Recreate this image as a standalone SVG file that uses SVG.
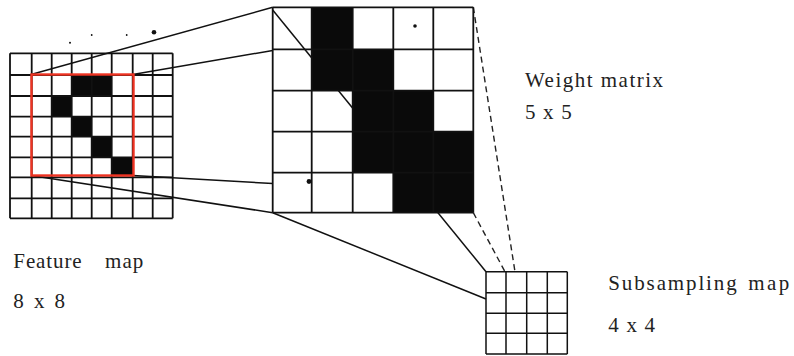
<svg xmlns="http://www.w3.org/2000/svg" width="794" height="356" viewBox="0 0 794 356">
<style>
.grid{stroke:#111;stroke-width:1.8;fill:none}
.thin{stroke:#111;stroke-width:1.5;fill:none}
.blk{fill:#0a0a0a}
.conn{stroke:#111;stroke-width:1.5;fill:none}
.dash{stroke:#222;stroke-width:1.4;fill:none;stroke-dasharray:6 4}
.lbl{font-size:21px;fill:#222}
.dot{fill:#111}
</style>
<rect width="794" height="356" fill="#fff"/>

<g id="feature-map">
  <rect class="blk" x="71.7" y="75" width="40" height="21"/>
  <rect class="blk" x="51.7" y="96" width="20" height="20.7"/>
  <rect class="blk" x="71.7" y="116.7" width="20" height="20"/>
  <rect class="blk" x="91.7" y="136.7" width="20" height="20.6"/>
  <rect class="blk" x="111.7" y="157.3" width="21" height="19"/>
  <path class="grid" d="M10 53.3V218.3M31.7 53.3V218.3M51.7 53.3V218.3M71.7 53.3V218.3M91.7 53.3V218.3M111.7 53.3V218.3M132.7 53.3V218.3M152.7 53.3V218.3M172.7 53.3V218.3M10 53.3H172.7M10 75H172.7M10 96H172.7M10 116.7H172.7M10 136.7H172.7M10 157.3H172.7M10 177.3H172.7M10 198.3H172.7M10 218.3H172.7"/>
  <circle class="dot" cx="70" cy="42.7" r="1"/>
  <circle class="dot" cx="91.7" cy="35" r="0.9"/>
  <circle class="dot" cx="126.7" cy="35" r="0.9"/>
  <circle class="dot" cx="154" cy="32.3" r="2.3"/>
  <text class="lbl" font-family="'Liberation Serif', 'Times New Roman', 'DejaVu Serif', serif"><tspan x="13.3" y="268" textLength="68.4">Feature</tspan><tspan x="105" y="268" textLength="38.3">map</tspan></text>
  <text class="lbl" font-family="'Liberation Serif', 'Times New Roman', 'DejaVu Serif', serif" x="13.3" y="308" textLength="51.7">8 x 8</text>
</g>

<g id="connectors">
  <line class="conn" x1="31" y1="74.5" x2="272.7" y2="7.3"/>
  <line class="conn" x1="132.7" y1="74.5" x2="272.7" y2="50.5"/>
  <line class="conn" x1="133" y1="175.5" x2="272.7" y2="183.5"/>
  <line class="conn" x1="31" y1="175.5" x2="272.7" y2="212.7"/>
  <line class="conn" x1="272.7" y1="212.7" x2="486" y2="299"/>
  <line class="conn" x1="272.7" y1="10" x2="486" y2="271.7"/>
  <line class="dash" x1="473.3" y1="7.3" x2="515" y2="271.7"/>
  <line class="dash" x1="473.3" y1="212.7" x2="505" y2="271.7"/>
</g>

<g id="weight-matrix">
  <rect class="blk" x="311.7" y="7.3" width="41" height="42"/>
  <rect class="blk" x="311.7" y="49.3" width="81.6" height="41.4"/>
  <rect class="blk" x="352.7" y="90.7" width="80.6" height="41"/>
  <rect class="blk" x="352.7" y="131.7" width="120.6" height="41"/>
  <rect class="blk" x="393.3" y="172.7" width="80" height="40"/>
  <path class="grid" d="M272.7 7.3V212.7M311.7 7.3V212.7M352.7 7.3V212.7M393.3 7.3V212.7M433.3 7.3V212.7M473.3 7.3V212.7M272.7 7.3H473.3M272.7 49.3H473.3M272.7 90.7H473.3M272.7 131.7H473.3M272.7 172.7H473.3M272.7 212.7H473.3"/>
  <circle class="dot" cx="415" cy="26" r="1.8"/>
  <circle class="dot" cx="309" cy="181.5" r="2.4"/>
  <text class="lbl" font-family="'Liberation Serif', 'Times New Roman', 'DejaVu Serif', serif" x="525" y="87" textLength="138">Weight matrix</text>
  <text class="lbl" font-family="'Liberation Serif', 'Times New Roman', 'DejaVu Serif', serif" x="525" y="118.5" textLength="46.7">5 x 5</text>
</g>

<g id="subsampling-map">
  <path class="thin" d="M486 271.7V354M506 271.7V354M526.7 271.7V354M547.3 271.7V354M567.3 271.7V354M486 271.7H567.3M486 292.7H567.3M486 313.3H567.3M486 333.3H567.3M486 354H567.3"/>
  <text class="lbl" font-family="'Liberation Serif', 'Times New Roman', 'DejaVu Serif', serif"><tspan x="608.3" y="290" textLength="128.4">Subsampling</tspan><tspan x="748.3" y="290" textLength="41">map</tspan></text>
  <text class="lbl" font-family="'Liberation Serif', 'Times New Roman', 'DejaVu Serif', serif" x="608.3" y="331.7" textLength="46.7">4 x 4</text>
</g>

<g id="receptive-field">
  <rect x="31.5" y="74.5" width="102" height="101" fill="none" stroke="#ee3322" stroke-width="2.4"/>
</g>
</svg>
